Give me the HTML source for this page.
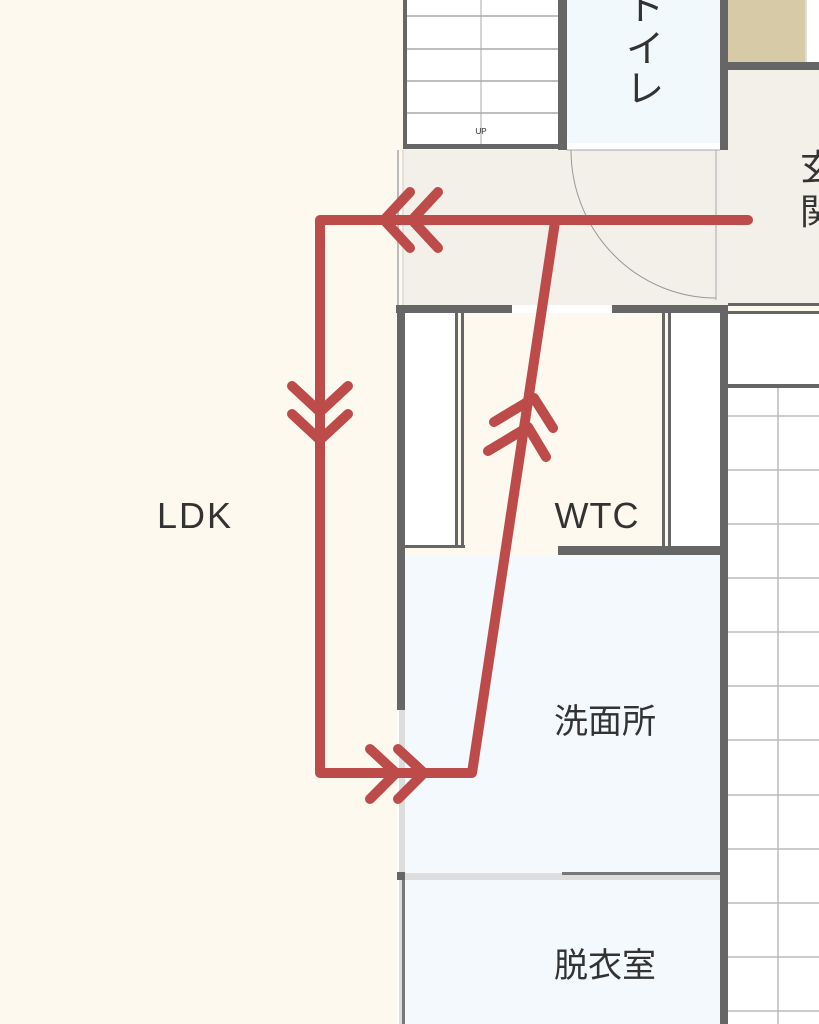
<!DOCTYPE html>
<html><head><meta charset="utf-8"><style>
html,body{margin:0;padding:0;background:#fef9ee;}
svg{display:block;}
text{font-family:"Liberation Sans","Noto Sans CJK JP",sans-serif;fill:#333;}
</style></head><body>
<svg width="819" height="1024" viewBox="0 0 819 1024" xmlns="http://www.w3.org/2000/svg">
<rect x="0" y="0" width="819" height="1024" fill="#fef9ee"/>
<rect x="403" y="0" width="160" height="148" fill="#fff"/>
<g stroke="#aaa" stroke-width="1.5">
<line x1="405" y1="16" x2="560" y2="16"/><line x1="405" y1="49" x2="560" y2="49"/>
<line x1="405" y1="81" x2="560" y2="81"/><line x1="405" y1="113" x2="560" y2="113"/>
<line x1="481" y1="0" x2="481" y2="148" stroke-width="1"/>
</g>
<text x="481" y="134" font-size="8" text-anchor="middle">UP</text>
<rect x="565" y="0" width="157" height="148" fill="#f2f9fd"/>
<text x="645" y="20" font-size="38" text-anchor="middle">ト</text>
<text x="645" y="62" font-size="38" text-anchor="middle">イ</text>
<text x="645" y="102" font-size="38" text-anchor="middle">レ</text>
<rect x="728" y="0" width="77" height="64" fill="#d6cba6"/>
<rect x="805" y="0" width="14" height="64" fill="#fff"/>
<line x1="806" y1="0" x2="806" y2="64" stroke="#bbb"/>
<rect x="403" y="150" width="416" height="155" fill="#f3efe9"/>
<rect x="728" y="70" width="91" height="80" fill="#f3efe9"/>
<path d="M571 150 A145 148 0 0 0 716 298" fill="none" stroke="#999" stroke-width="1"/>
<line x1="716" y1="150" x2="716" y2="300" stroke="#aaa" stroke-width="1"/>
<text x="800" y="180" font-size="36">玄</text>
<text x="800" y="224" font-size="36">関</text>
<g fill="#666">
<rect x="403" y="0" width="4" height="149"/>
<rect x="403" y="144" width="160" height="5"/>
<rect x="558" y="0" width="9" height="150"/>
<rect x="720" y="0" width="8" height="150"/>
<rect x="728" y="62" width="91" height="8"/>
</g>
<rect x="567" y="143" width="153" height="7" fill="#fff"/>
<line x1="567" y1="150" x2="720" y2="150" stroke="#aaa"/>
<line x1="398" y1="150" x2="398" y2="305" stroke="#bbb" stroke-width="2"/>
<line x1="403" y1="150" x2="403" y2="305" stroke="#ccc" stroke-width="1"/>
<rect x="405" y="313" width="315" height="235" fill="#fef9ee"/>
<rect x="405" y="313" width="50" height="235" fill="#fff"/>
<rect x="668" y="313" width="52" height="235" fill="#fff"/>
<g fill="#666">
<rect x="455" y="313" width="3" height="235"/><rect x="461" y="313" width="3" height="235"/>
<rect x="662" y="313" width="3" height="235"/><rect x="668" y="313" width="3" height="235"/>
<rect x="396" y="305" width="116" height="8"/>
<rect x="612" y="305" width="116" height="8"/>
<rect x="397" y="305" width="8" height="405"/>
<rect x="720" y="305" width="8" height="719"/>
<rect x="558" y="546" width="162" height="9"/>
<rect x="405" y="545" width="60" height="3"/>
</g>
<rect x="512" y="305" width="100" height="8" fill="#fff"/>
<rect x="728" y="313" width="91" height="711" fill="#fff"/>
<rect x="728" y="303" width="91" height="3" fill="#666"/>
<rect x="728" y="311" width="91" height="3" fill="#666"/>
<rect x="728" y="384" width="91" height="4" fill="#666"/>
<g stroke="#bbb" stroke-width="1.5">
<line x1="778" y1="388" x2="778" y2="1024"/>
<line x1="728" y1="416" x2="819" y2="416"/><line x1="728" y1="470" x2="819" y2="470"/>
<line x1="728" y1="524" x2="819" y2="524"/><line x1="728" y1="578" x2="819" y2="578"/>
<line x1="728" y1="632" x2="819" y2="632"/><line x1="728" y1="686" x2="819" y2="686"/>
<line x1="728" y1="740" x2="819" y2="740"/><line x1="728" y1="795" x2="819" y2="795"/>
<line x1="728" y1="849" x2="819" y2="849"/><line x1="728" y1="903" x2="819" y2="903"/>
<line x1="728" y1="957" x2="819" y2="957"/><line x1="728" y1="1011" x2="819" y2="1011"/>
</g>
<rect x="405" y="556" width="315" height="317" fill="#f3f9fd"/>
<rect x="405" y="880" width="315" height="144" fill="#f3f9fd"/>
<rect x="405" y="873" width="315" height="7" fill="#ddd"/>
<rect x="562" y="872" width="158" height="3" fill="#777"/>
<rect x="397" y="710" width="8" height="314" fill="#ddd"/>
<line x1="398" y1="710" x2="398" y2="1024" stroke="#fff" stroke-width="2"/>
<rect x="402" y="880" width="3" height="144" fill="#777"/>
<rect x="397" y="872" width="8" height="8" fill="#666"/>
<text x="605" y="733" font-size="34" text-anchor="middle">洗面所</text>
<text x="605" y="977" font-size="34" text-anchor="middle">脱衣室</text>
<text x="195" y="528" font-size="36" text-anchor="middle" letter-spacing="2">LDK</text>
<text x="597" y="528" font-size="36" text-anchor="middle" letter-spacing="1">WTC</text>
<g fill="none" stroke="#bd4b4a" stroke-width="10" stroke-linecap="round" stroke-linejoin="round">
<polyline points="748,220 320,220 320,773 472,773 555,222"/>
<polyline points="410,192 384,220 410,248"/><polyline points="438,192 412,220 438,248"/>
<polyline points="292,386 320,412 348,386"/><polyline points="292,414 320,440 348,414"/>
<polyline points="370,749 396,773 370,799"/><polyline points="398,749 424,773 398,799"/>
<polyline points="494,422 534,398 553,428"/><polyline points="488,451 528,427 546,457"/>
</g>
</svg>
</body></html>
